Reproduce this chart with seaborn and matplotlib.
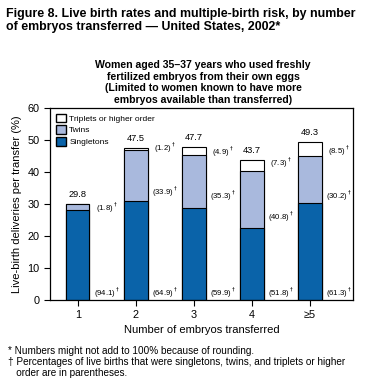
import pandas as pd
import numpy as np
import matplotlib.pyplot as plt
import seaborn as sns
from matplotlib.patches import Patch

sns.set_style('white')
plt.rcParams['font.family'] = ['Liberation Sans', 'DejaVu Sans']
plt.rcParams['text.color'] = 'black'
plt.rcParams['axes.labelcolor'] = 'black'

# data
embryos = ['1', '2', '3', '4', '≥5']
totals = [29.8, 47.5, 47.7, 43.7, 49.3]
singletons = [28.0, 30.8, 28.6, 22.6, 30.2]
twins = [1.9, 16.1, 16.8, 17.8, 14.9]
triplets = [0.0, 0.6, 2.3, 3.2, 4.2]
pct_single = ['94.1', '64.9', '59.9', '51.8', '61.3']
pct_twins = ['1.8', '33.9', '35.3', '40.8', '30.2']
pct_trip = [None, '1.2', '4.9', '7.3', '8.5']

# label heights for the parenthesised percentages
y_single = [2.2, 2.2, 2.2, 2.2, 2.2]
y_twins = [28.7, 33.8, 32.5, 25.9, 32.5]
y_trip = [None, 47.5, 46.2, 42.8, 46.5]

df = pd.DataFrame({'embryos': embryos, 'single': singletons, 'twins': twins, 'trip': triplets})
df['cum_twins'] = df['single'] + df['twins']
df['cum_trip'] = df['cum_twins'] + df['trip']

fig = plt.figure(figsize=(3.69, 3.92), dpi=100)
ax = fig.add_axes([50/369, 1 - 300/392, 303/369, 192/392])

kw = dict(x='embryos', width=0.4, edgecolor='black', linewidth=0.8, ax=ax, saturation=1)
sns.barplot(data=df, y='cum_trip', color='white', **kw)
sns.barplot(data=df, y='cum_twins', color='#a9b9dd', **kw)
sns.barplot(data=df, y='single', color='#0a63a9', **kw)

for i in range(len(embryos)):
    ax.text(i, df['cum_trip'][i] + 1.6, f'{totals[i]:.1f}', ha='center', va='bottom', fontsize=6.7)
    ax.text(i + 0.5, y_single[i], f'({pct_single[i]})$^\\dagger$', ha='center', va='center', fontsize=5.6)
    ax.text(i + 0.5, y_twins[i], f'({pct_twins[i]})$^\\dagger$', ha='center', va='center', fontsize=5.6)
    if pct_trip[i] is not None:
        ax.text(i + 0.5, y_trip[i], f'({pct_trip[i]})$^\\dagger$', ha='center', va='center', fontsize=5.6)

ax.set_xlim(-0.48, 4.74)
ax.set_ylim(0, 60)
ax.set_yticks(np.arange(0, 61, 10))
ax.tick_params(axis='both', direction='out', length=4, width=0.8, labelsize=7.8,
               bottom=True, left=True, colors='black')
for s in ax.spines.values():
    s.set_color('black')
    s.set_linewidth(0.9)
ax.set_xlabel('Number of embryos transferred', fontsize=8, labelpad=3)
ax.set_ylabel('Live-birth deliveries per transfer (%)', fontsize=8, labelpad=4)

handles = [Patch(facecolor='white', edgecolor='black', label='Triplets or higher order'),
           Patch(facecolor='#a9b9dd', edgecolor='black', label='Twins'),
           Patch(facecolor='#0a63a9', edgecolor='black', label='Singletons')]
ax.legend(handles=handles, loc='upper left', frameon=False, fontsize=6,
          handlelength=1.2, handleheight=1.2, handletextpad=0.4, labelspacing=0.3,
          borderaxespad=0.3)

fig.text(6/369, 1 - 8/392, 'Figure 8. Live birth rates and multiple-birth risk, by number\n'
         'of embryos transferred \u2014 United States, 2002*',
         ha='left', va='top', fontsize=8.9, fontweight='bold', linespacing=1.1)
fig.text(203/369, 1 - 60/392, 'Women aged 35\u201337 years who used freshly\n'
         'fertilized embryos from their own eggs\n'
         '(Limited to women known to have more\n'
         'embryos available than transferred)',
         ha='center', va='top', fontsize=7.6, fontweight='bold', linespacing=1.2)
fig.text(8/369, 1 - 346/392, '* Numbers might not add to 100% because of rounding.\n'
         '\u2020 Percentages of live births that were singletons, twins, and triplets or higher\n'
         '   order are in parentheses.',
         ha='left', va='top', fontsize=7.2, linespacing=1.15)

fig.savefig('out.png', dpi=100)
